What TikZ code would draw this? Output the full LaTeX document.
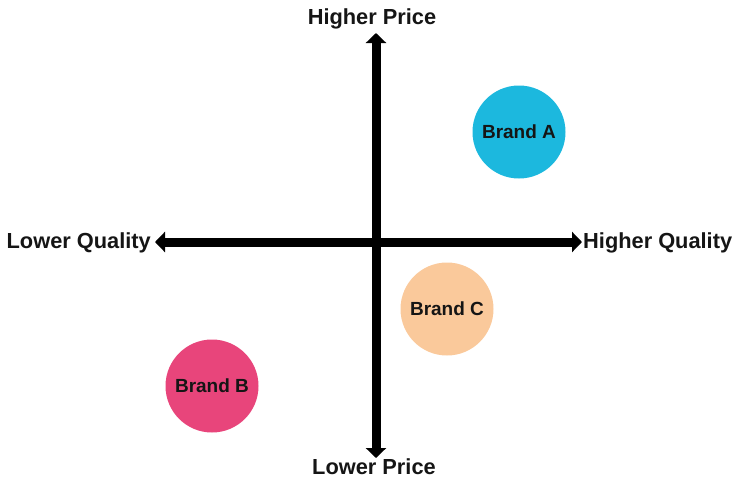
\documentclass[tikz,border=0pt]{standalone}
\usepackage{fontspec}
\setmainfont{Liberation Sans}
\usetikzlibrary{arrows.meta}
\definecolor{brandA}{HTML}{1CB8DE}
\definecolor{brandB}{HTML}{E8457B}
\definecolor{brandC}{HTML}{FAC99B}
\definecolor{ink}{HTML}{151515}
\begin{document}
\begin{tikzpicture}[x=1pt,y=-1pt,
  axis/.style={line width=9pt,black,-{Triangle[width=20pt,length=10pt]}},
  axlabel/.style={font=\fontsize{21.8}{24}\selectfont\bfseries,text=ink,inner sep=0pt},
  brand/.style={circle,minimum size=93pt,inner sep=0pt,font=\fontsize{19}{22}\selectfont\bfseries,text=ink}]
\useasboundingbox (0,0) rectangle (734,483);
\coordinate (O) at (376,242);
\coordinate (T) at (376,33);
\coordinate (B) at (376,458);
\coordinate (L) at (155,242);
\coordinate (R) at (582,242);
\draw[axis] (O) -- (T);
\draw[axis] (O) -- (B);
\draw[axis] (O) -- (L);
\draw[axis] (O) -- (R);
\node[axlabel] (hp) at (372,19) {Higher Price};
\node[axlabel] (lp) at (374,467) {Lower Price};
\node[axlabel,anchor=east] (lq) at (151,243) {Lower Quality};
\node[axlabel,anchor=west] (hq) at (583,243) {Higher Quality};
\node[brand,fill=brandA] (a) at (519,132) {Brand A};
\node[brand,fill=brandC] (c) at (447,309) {Brand C};
\node[brand,fill=brandB] (b) at (212,386) {Brand B};
\end{tikzpicture}
\end{document}
